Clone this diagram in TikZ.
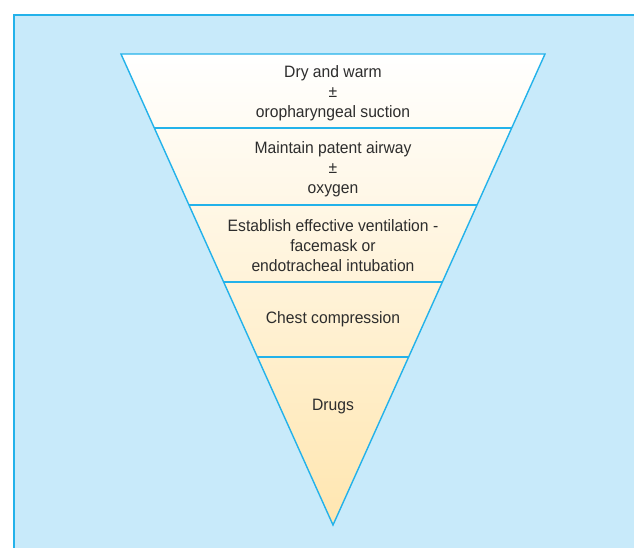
\documentclass[tikz,border=0pt]{standalone}
\usepackage{fontspec}
\setmainfont[FakeStretch=0.95]{Liberation Sans}
\usetikzlibrary{calc}
\definecolor{bgBlue}{RGB}{200,234,250}
\definecolor{lnBlue}{RGB}{35,178,234}
\definecolor{peach}{RGB}{255,230,176}
\definecolor{txtGray}{RGB}{45,45,45}
\tikzstyle{tS}=[align=center, inner sep = 0pt, text=txtGray, font=\fontsize{16.5}{20}\selectfont]
\tikzstyle{lS}=[draw=lnBlue, line width=1.4pt]

\begin{document}
\begin{tikzpicture}[x=1pt,y=-1pt]
                \useasboundingbox (0,0) rectangle (634,548);
                \fill[bgBlue] (14,15) rectangle (634,548);
                \draw[lS] (14,548) -- (14,15) -- (634,15);
                \coordinate (tl) at (121,54);
                \coordinate (tr) at (545,54);
                \coordinate (ap) at (333,525);
                % band edges
                \foreach \f [count=\i] in {0.157,0.3206,0.4841,0.6433}
                {
                    \coordinate (l\i) at ($(tl)!\f!(ap)$);
                    \coordinate (r\i) at ($(tr)!\f!(ap)$);
                }
                \shade[top color=white, bottom color=peach] (tl) -- (tr) -- (ap) -- cycle;
                \draw[lS, line join=miter] (tl) -- (tr) -- (ap) -- cycle;
                \foreach \i in {1,...,4}
                    \draw[lS] (l\i) -- (r\i);
                \draw (333,93) node[tS] (b1) {Dry and warm\\±\\oropharyngeal suction};
                \draw (333,169) node[tS] (b2) {Maintain patent airway\\±\\oxygen};
                \draw (333,246) node[tS] (b3) {Establish effective ventilation -\\facemask or\\endotracheal intubation};
                \draw (333,319) node[tS] (b4) {Chest compression};
                \draw (333,407) node[tS] (b5) {Drugs};
        \end{tikzpicture}
\end{document}
